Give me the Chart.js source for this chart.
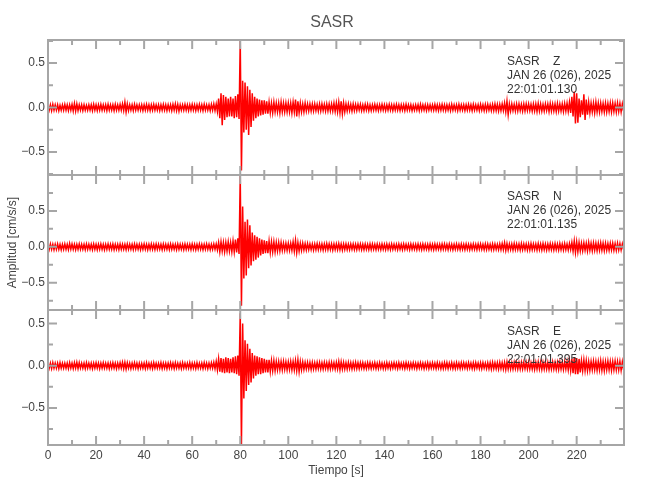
<!DOCTYPE html>
<html>
<head>
<meta charset="utf-8">
<script src="https://cdn.jsdelivr.net/npm/chart.js"></script>
<style>
  body { margin: 0; background: #fff; }
  #wrap { width: 650px; height: 500px; position: relative; }
</style>
</head>
<body>
<div id="wrap"><canvas id="sismo"></canvas></div>
<script>
// acceleration envelope, one value per second (cm/s/s)
// "up" = positive peak in that second, "down" = size of the negative peak
let zUp = [
  .03,.03,.035,.03,.03,.025,.03,.035,.03,.03, .035,.045,.04,.03,.03,.03,.025,.03,.03,.035,
  .03,.03,.035,.03,.03,.035,.03,.03,.035,.03, .035,.04,.06,.04,.03,.03,.035,.03,.03,.03,
  .03,.035,.03,.03,.035,.03,.03,.03,.035,.03, .03,.03,.035,.04,.035,.03,.03,.035,.03,.03,
  .035,.03,.03,.035,.03,.035,.03,.03,.035,.04, .04,.1,.16,.14,.12,.1,.12,.1,.13,.15,
  .76,.3,.28,.24,.2,.16,.12,.1,.09,.08, .08,.07,.06,.05,.06,.05,.05,.06,.05,.05,
  .05,.05,.06,.09,.07,.05,.04,.05,.04,.04, .04,.04,.035,.04,.04,.035,.04,.04,.04,.05,
  .05,.06,.07,.05,.04,.04,.035,.04,.035,.035, .035,.03,.035,.035,.03,.03,.035,.03,.03,.035,
  .03,.03,.035,.03,.03,.035,.03,.03,.03,.035, .03,.03,.025,.03,.03,.035,.03,.03,.03,.03,
  .03,.035,.03,.03,.035,.03,.03,.03,.035,.03, .03,.035,.03,.03,.03,.035,.03,.035,.03,.03,
  .035,.03,.035,.035,.03,.035,.04,.035,.035,.04, .05,.07,.04,.04,.035,.04,.04,.035,.04,.04,
  .04,.035,.04,.04,.045,.04,.035,.04,.04,.045, .04,.04,.045,.04,.04,.045,.05,.06,.12,.18,
  .16,.1,.08,.15,.09,.06,.05,.05,.06,.05, .05,.045,.05,.045,.05,.05,.045,.05,.045,.04
];
let zDown = [
  .03,.035,.03,.03,.035,.03,.03,.03,.035,.03, .04,.04,.035,.03,.035,.03,.03,.03,.035,.03,
  .035,.03,.03,.03,.035,.03,.03,.035,.03,.03, .03,.035,.05,.035,.03,.035,.03,.03,.03,.035,
  .03,.03,.035,.03,.03,.03,.035,.03,.03,.035, .03,.035,.03,.035,.04,.03,.03,.03,.035,.03,
  .03,.035,.03,.03,.035,.03,.03,.035,.03,.035, .045,.12,.2,.14,.11,.1,.1,.12,.11,.13,
  .71,.28,.25,.31,.22,.15,.12,.1,.09,.08, .07,.07,.06,.06,.05,.05,.06,.05,.05,.05,
  .05,.06,.05,.1,.06,.05,.05,.04,.04,.04, .04,.035,.04,.04,.035,.04,.04,.04,.04,.045,
  .05,.06,.07,.05,.04,.035,.04,.035,.035,.03, .035,.035,.03,.035,.035,.03,.03,.035,.03,.03,
  .035,.03,.03,.035,.03,.03,.035,.03,.035,.03, .03,.035,.03,.03,.035,.03,.03,.035,.03,.03,
  .03,.03,.035,.03,.03,.035,.03,.035,.03,.03, .035,.03,.03,.035,.03,.03,.035,.03,.03,.035,
  .03,.035,.035,.03,.035,.035,.035,.04,.035,.035, .05,.08,.04,.035,.04,.04,.035,.04,.04,.035,
  .035,.04,.04,.045,.04,.04,.04,.035,.045,.04, .04,.045,.04,.04,.045,.04,.045,.06,.1,.18,
  .17,.11,.08,.14,.08,.06,.05,.06,.05,.05, .045,.05,.05,.045,.05,.045,.05,.045,.05,.04
];
let nUp = [
  .035,.04,.035,.035,.04,.035,.035,.04,.035,.045, .04,.035,.035,.04,.035,.035,.04,.035,.035,.04,
  .035,.035,.04,.035,.035,.04,.035,.04,.035,.035, .04,.035,.035,.04,.035,.035,.04,.035,.035,.035,
  .04,.035,.035,.04,.035,.04,.035,.035,.04,.035, .035,.04,.035,.035,.04,.035,.035,.04,.035,.035,
  .04,.035,.035,.04,.035,.035,.04,.035,.035,.04, .04,.06,.07,.06,.06,.07,.06,.08,.1,.12,
  .99,.56,.35,.38,.3,.2,.16,.14,.12,.1, .09,.08,.08,.07,.07,.06,.06,.06,.05,.05,
  .05,.05,.07,.09,.06,.05,.05,.045,.045,.04, .04,.04,.045,.04,.04,.04,.045,.04,.04,.04,
  .04,.045,.04,.04,.04,.035,.04,.04,.035,.04, .04,.035,.04,.035,.04,.04,.035,.04,.035,.04,
  .035,.04,.035,.04,.035,.035,.04,.035,.04,.035, .035,.04,.035,.035,.04,.035,.04,.035,.035,.04,
  .035,.04,.035,.035,.04,.04,.035,.04,.035,.035, .04,.035,.04,.035,.04,.035,.035,.04,.035,.04,
  .04,.035,.04,.04,.035,.04,.04,.035,.04,.045, .055,.045,.04,.04,.045,.04,.04,.045,.04,.04,
  .04,.045,.04,.04,.045,.04,.045,.04,.04,.045, .04,.045,.04,.045,.04,.045,.04,.045,.06,.08,
  .07,.06,.05,.055,.05,.06,.05,.055,.05,.05, .055,.05,.05,.045,.05,.05,.045,.05,.045,.04
];
let nDown = [
  .035,.035,.04,.035,.035,.04,.035,.035,.04,.035, .035,.04,.035,.035,.035,.04,.035,.035,.04,.035,
  .04,.035,.035,.04,.035,.035,.035,.04,.035,.04, .035,.035,.04,.035,.035,.04,.035,.035,.04,.035,
  .035,.04,.035,.035,.04,.035,.035,.04,.035,.035, .04,.035,.035,.04,.035,.035,.04,.035,.035,.04,
  .035,.04,.035,.035,.04,.035,.035,.04,.035,.035, .045,.07,.06,.07,.06,.06,.07,.07,.08,.1,
  .82,.44,.4,.3,.26,.2,.18,.15,.12,.1, .09,.09,.08,.07,.07,.06,.06,.05,.05,.05,
  .05,.05,.06,.08,.06,.05,.045,.045,.04,.04, .045,.04,.04,.04,.045,.04,.04,.04,.045,.04,
  .04,.04,.045,.04,.04,.04,.035,.04,.04,.035, .04,.04,.035,.04,.04,.035,.04,.035,.04,.035,
  .04,.035,.04,.035,.035,.04,.035,.04,.035,.035, .04,.035,.035,.04,.035,.04,.035,.035,.04,.035,
  .04,.035,.035,.04,.035,.035,.04,.035,.04,.035, .035,.04,.035,.04,.035,.04,.035,.035,.04,.035,
  .035,.04,.04,.035,.04,.04,.035,.04,.04,.04, .05,.045,.04,.045,.04,.04,.045,.04,.04,.045,
  .045,.04,.04,.045,.04,.045,.04,.045,.04,.04, .045,.04,.045,.04,.045,.04,.045,.04,.06,.08,
  .07,.06,.055,.05,.06,.05,.055,.05,.055,.05, .05,.055,.05,.05,.045,.05,.05,.045,.045,.04
];
let eUp = [
  .03,.03,.035,.03,.03,.035,.03,.03,.03,.035, .03,.035,.04,.035,.03,.03,.035,.03,.03,.03,
  .035,.03,.03,.035,.03,.03,.03,.035,.03,.03, .035,.04,.04,.035,.03,.03,.035,.03,.03,.03,
  .03,.035,.03,.03,.035,.03,.03,.035,.03,.03, .03,.035,.03,.035,.03,.03,.035,.03,.03,.035,
  .03,.03,.035,.03,.03,.035,.03,.03,.035,.04, .05,.08,.09,.08,.1,.09,.08,.1,.11,.12,
  .62,.5,.3,.26,.2,.15,.12,.11,.1,.09, .08,.07,.07,.06,.06,.05,.05,.05,.05,.045,
  .045,.05,.05,.06,.07,.05,.045,.04,.04,.04, .04,.035,.04,.04,.035,.04,.035,.04,.04,.035,
  .04,.05,.045,.04,.035,.04,.035,.035,.04,.035, .035,.035,.03,.035,.035,.03,.035,.03,.035,.03,
  .03,.035,.03,.03,.035,.03,.035,.03,.03,.035, .03,.03,.035,.03,.03,.035,.03,.03,.035,.03,
  .035,.03,.035,.03,.03,.035,.035,.03,.035,.03, .035,.03,.035,.035,.03,.035,.03,.035,.035,.03,
  .035,.035,.03,.035,.035,.04,.035,.035,.04,.035, .04,.045,.04,.035,.04,.04,.035,.04,.04,.04,
  .04,.035,.04,.04,.045,.04,.04,.045,.04,.04, .045,.04,.04,.045,.04,.045,.05,.06,.08,.1,
  .09,.08,.06,.07,.06,.05,.05,.055,.05,.05, .06,.05,.05,.055,.05,.05,.055,.05,.05,.045
];
let eDown = [
  .03,.035,.03,.03,.035,.03,.03,.03,.035,.03, .035,.03,.035,.03,.03,.035,.03,.03,.035,.03,
  .03,.035,.03,.03,.03,.035,.03,.03,.035,.03, .03,.035,.04,.03,.035,.03,.03,.035,.03,.03,
  .035,.03,.03,.035,.03,.03,.03,.035,.03,.035, .03,.03,.035,.03,.03,.035,.03,.03,.03,.035,
  .03,.035,.03,.03,.035,.03,.035,.03,.03,.035, .05,.07,.08,.09,.08,.09,.08,.09,.1,.12,
  .93,.39,.3,.23,.2,.15,.12,.1,.1,.09, .08,.08,.07,.06,.06,.05,.05,.05,.045,.05,
  .045,.05,.05,.06,.07,.05,.045,.04,.04,.045, .04,.04,.035,.04,.04,.035,.04,.04,.035,.04,
  .04,.05,.04,.04,.04,.035,.04,.035,.035,.035, .03,.035,.035,.03,.035,.03,.035,.035,.03,.035,
  .035,.03,.035,.03,.03,.035,.03,.03,.035,.03, .035,.03,.03,.035,.03,.03,.035,.03,.035,.03,
  .03,.035,.03,.035,.035,.03,.035,.03,.035,.035, .03,.035,.03,.03,.035,.03,.035,.035,.03,.035,
  .035,.03,.035,.035,.04,.035,.035,.04,.035,.04, .045,.04,.04,.04,.035,.04,.04,.04,.035,.04,
  .04,.04,.045,.04,.04,.045,.04,.04,.045,.04, .04,.045,.045,.04,.045,.04,.05,.06,.09,.1,
  .1,.08,.06,.06,.06,.055,.05,.05,.055,.05, .055,.06,.05,.05,.055,.05,.05,.05,.055,.05
];

let station = "SASR";
let components = ["Z", "N", "E"];
let startDate = "JAN 26 (026), 2025";
let startTimes = ["22:01:01.130", "22:01:01.135", "22:01:01.395"];
let yMins = [-0.76, -0.88, -0.94];
let yMaxs = [0.76, 1.0, 0.66];
let xTicks = [0, 20, 40, 60, 80, 100, 120, 140, 160, 180, 200, 220];
let tEnd = 239.7;

const FONT = '"Liberation Sans", Arial, sans-serif';
Chart.defaults.font.family = FONT;
Chart.defaults.color = '#444';

// trace = zig-zag between the positive and negative peak of each second
function trace(up, down) {
  let pts = [];
  for (let i = 0; i < up.length; i++) {
    pts.push({x: i, y: up[i]});
    pts.push({x: i + 0.5, y: -down[i]});
  }
  return pts;
}
let traces = [trace(zUp, zDown), trace(nUp, nDown), trace(eUp, eDown)];
let ids = ["yz", "yn", "ye"];

function fmt(v) {
  if (v === 0) return "0.0";
  return (v < 0 ? "\u2212" : "") + Math.abs(v).toFixed(1);
}

let scales = {
  x: {
    type: 'linear', position: 'bottom', min: 0, max: tEnd,
    grid: {display: false, drawTicks: false}, border: {display: false},
    afterBuildTicks: s => { s.ticks = xTicks.map(v => ({value: v})); },
    ticks: {padding: 3, font: {size: 12}, maxRotation: 0, callback: v => String(v)},
    afterFit: s => { s.height = 55; }
  }
};
ids.forEach((id, k) => {
  scales[id] = {
    type: 'linear', position: 'left', stack: 'panels', stackWeight: 1, weight: 3 - k,
    min: yMins[k], max: yMaxs[k],
    grid: {display: false, drawTicks: false}, border: {display: false},
    afterBuildTicks: s => { s.ticks = [-0.5, 0, 0.5].map(v => ({value: v})); },
    ticks: {padding: 3, font: {size: 12}, callback: v => fmt(v)},
    afterFit: s => { s.width = 48; }
  };
});

let frames = {
  id: 'frames',
  afterDatasetsDraw(chart) {
    const ctx = chart.ctx, a = chart.chartArea, sx = chart.scales.x;
    ctx.save();
    ctx.strokeStyle = '#a6a6a6';
    ctx.lineWidth = 2;
    ids.forEach((id, k) => {
      const s = chart.scales[id];
      ctx.strokeRect(a.left, s.top, a.right - a.left, s.bottom - s.top);
      ctx.beginPath();
      for (let q = Math.ceil(s.min * 4); q <= Math.floor(s.max * 4); q++) {
        const py = s.getPixelForValue(q / 4);
        const len = q % 2 === 0 ? 9 : 5;
        ctx.moveTo(a.left, py); ctx.lineTo(a.left + len, py);
        ctx.moveTo(a.right, py); ctx.lineTo(a.right - len, py);
      }
      for (let t = 10; t < sx.max; t += 10) {
        const px = sx.getPixelForValue(t);
        const len = t % 20 === 0 ? 9 : 5;
        ctx.moveTo(px, s.top); ctx.lineTo(px, s.top + len);
        ctx.moveTo(px, s.bottom); ctx.lineTo(px, s.bottom - len);
      }
      ctx.stroke();
      // station header in each panel
      ctx.fillStyle = '#333';
      ctx.font = '12px ' + FONT;
      ctx.textBaseline = 'middle';
      ctx.textAlign = 'left';
      const tx = a.left + 459;
      ctx.fillText(station + "    " + components[k], tx, s.top + 22);
      ctx.fillText(startDate, tx, s.top + 36);
      ctx.fillText(startTimes[k], tx, s.top + 50);
    });
    // titles
    ctx.fillStyle = '#555';
    ctx.textAlign = 'center';
    ctx.font = '16px ' + FONT;
    ctx.fillText(station, (a.left + a.right) / 2 - 4, 23);
    ctx.fillStyle = '#444';
    ctx.font = '12px ' + FONT;
    ctx.fillText("Tiempo [s]", (a.left + a.right) / 2, 471);
    ctx.translate(13, (a.top + a.bottom) / 2);
    ctx.rotate(-Math.PI / 2);
    ctx.fillText("Amplitud [cm/s/s]", 0, 0);
    ctx.restore();
  }
};

new Chart(document.getElementById("sismo"), {
  type: 'line',
  data: {
    datasets: traces.map((d, k) => ({
      data: d, yAxisID: ids[k],
      borderColor: '#ff0000', borderWidth: 1.5, pointRadius: 0, tension: 0
    }))
  },
  options: {
    responsive: true, maintainAspectRatio: false, animation: false,
    layout: {padding: {top: 40, right: 26, left: 0, bottom: 0}},
    plugins: {legend: {display: false}, tooltip: {enabled: false}},
    scales: scales
  },
  plugins: [frames]
});
</script>
</body>
</html>
